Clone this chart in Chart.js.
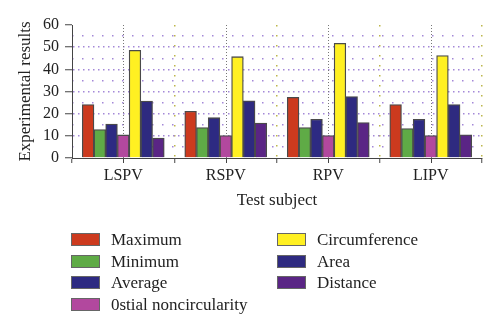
<!DOCTYPE html>
<html>
<head>
<meta charset="utf-8">
<script src="https://cdn.jsdelivr.net/npm/chart.js@4"></script>
<style>
  html, body { margin: 0; padding: 0; background: #fff; }
  #wrap { position: relative; width: 500px; height: 332px; }
  #chart-box { position: absolute; left: 0; top: 0; width: 500px; height: 216px; }
  #legend { position: absolute; left: 0; top: 0; width: 500px; height: 332px; pointer-events: none;
            font-family: "Liberation Serif", "DejaVu Serif", serif; font-size: 17px; color: #222; }
  .item { position: absolute; height: 20px; line-height: 20px; white-space: nowrap; }
  .item span.box { position: absolute; left: 0; top: 3px; width: 27px; height: 11px; border: 1px solid #666; }
  .item span.txt { position: absolute; left: 40px; top: 0; }
</style>
</head>
<body>
<div id="wrap">
  <div id="chart-box"><canvas id="chart"></canvas></div>
  <div id="legend"></div>
</div>
<script>
// data
const subjects = ["LSPV", "RSPV", "RPV", "LIPV"];
const maximum = [24.1, 21.1, 27.4, 24.1];
const minimum = [12.8, 13.7, 13.7, 13.3];
const average = [15.3, 18.2, 17.5, 17.5];
const ostial = [10.4, 10.1, 10.1, 10.1];
const circumference = [48.6, 45.7, 51.7, 46.2];
const area = [25.7, 25.8, 27.7, 24.1];
const distance = [9.0, 15.8, 16.0, 10.5];

const serif = "'Liberation Serif', 'DejaVu Serif', serif";

const series = [
  { label: "Maximum", data: maximum, color: "#cc3a1e" },
  { label: "Minimum", data: minimum, color: "#5fab46" },
  { label: "Average", data: average, color: "#2d2a82" },
  { label: "0stial noncircularity", data: ostial, color: "#b2489e" },
  { label: "Circumference", data: circumference, color: "#fff022" },
  { label: "Area", data: area, color: "#2e2a80" },
  { label: "Distance", data: distance, color: "#5a2585" },
];

// dotted lines through the middle of each group + small tick under the axis
const centerLines = {
  id: "centerLines",
  beforeDatasetsDraw(chart) {
    const { ctx, chartArea, scales } = chart;
    ctx.save();
    subjects.forEach((s, i) => {
      const x = Math.round(scales.x.getPixelForTick(i)) + 0.5;
      ctx.strokeStyle = "#777";
      ctx.lineWidth = 1;
      ctx.setLineDash([1, 2]);
      ctx.beginPath();
      ctx.moveTo(x, chartArea.top);
      ctx.lineTo(x, chartArea.bottom);
      ctx.stroke();
      ctx.setLineDash([]);
      ctx.strokeStyle = "#444";
      ctx.beginPath();
      ctx.moveTo(x, chartArea.bottom);
      ctx.lineTo(x, chartArea.bottom + 5);
      ctx.stroke();
    });
    ctx.restore();
  }
};

const chart = new Chart(document.getElementById("chart"), {
  type: "bar",
  data: {
    labels: subjects,
    datasets: series.map(s => ({
      label: s.label,
      data: s.data,
      backgroundColor: s.color,
      borderColor: "#4a4a4a",
      borderWidth: 1.3,
      inflateAmount: 0.33,
      categoryPercentage: 0.8,
      barPercentage: 1.0,
    })),
  },
  options: {
    responsive: true,
    maintainAspectRatio: false,
    animation: false,
    layout: { padding: { top: 25, right: 18, left: 0, bottom: 0 } },
    plugins: { legend: { display: false }, tooltip: { enabled: false } },
    scales: {
      x: {
        afterFit: s => { s.height = 58; },
        grid: {
          offset: true,
          lineWidth: 1.5,
          color: c => (c.index === 0 || c.index === subjects.length) ? "transparent" : "#bdb64a",
          tickColor: "#444",
          tickWidth: 1,
          tickLength: 5,
        },
        border: { color: "#444", width: 1, dash: [1.5, 8.5] },
        ticks: { color: "#222", padding: 3, font: { family: serif, size: 16 } },
        title: { display: true, text: "Test subject", color: "#222",
                 font: { family: serif, size: 17 }, padding: { top: 0, bottom: 5 } },
      },
      y: {
        min: 0, max: 60,
        afterFit: s => { s.width = 72; },
        grid: {
          lineWidth: 1.5,
          color: c => (c.tick && (c.tick.value === 0 || c.tick.value === 60)) ? "transparent" : "#a488d8",
          tickColor: "#444",
          tickWidth: 1,
          tickLength: 7,
        },
        border: { color: "#444", width: 1, dash: [1.5, 3.5] },
        ticks: { stepSize: 10, autoSkip: false, color: "#222", padding: 6, font: { family: serif, size: 16 } },
        title: { display: true, text: "Experimental results", color: "#222",
                 font: { family: serif, size: 17 }, padding: { top: 15, bottom: 0 } },
      },
      y2: {
        position: "right",
        min: 0, max: 60,
        afterFit: s => { s.width = 0; },
        ticks: { display: false, stepSize: 5, autoSkip: false },
        grid: {
          drawTicks: false,
          lineWidth: 1.5,
          color: c => (c.tick && c.tick.value % 10 === 0) ? "transparent" : "#a488d8",
        },
        border: { display: false, dash: [1.5, 8.5] },
      },
    },
  },
  plugins: [centerLines],
});

// legend in two columns, built from the datasets
const legendPos = [
  [71, 230], [71, 252], [71, 273], [71, 295],
  [277, 230], [277, 252], [277, 273],
];
const legend = document.getElementById("legend");
chart.data.datasets.forEach((ds, i) => {
  const el = document.createElement("div");
  el.className = "item";
  el.style.left = legendPos[i][0] + "px";
  el.style.top = legendPos[i][1] + "px";
  el.innerHTML = '<span class="box" style="background:' + ds.backgroundColor + '"></span><span class="txt"></span>';
  el.querySelector(".txt").textContent = ds.label;
  legend.appendChild(el);
});
</script>
</body>
</html>
